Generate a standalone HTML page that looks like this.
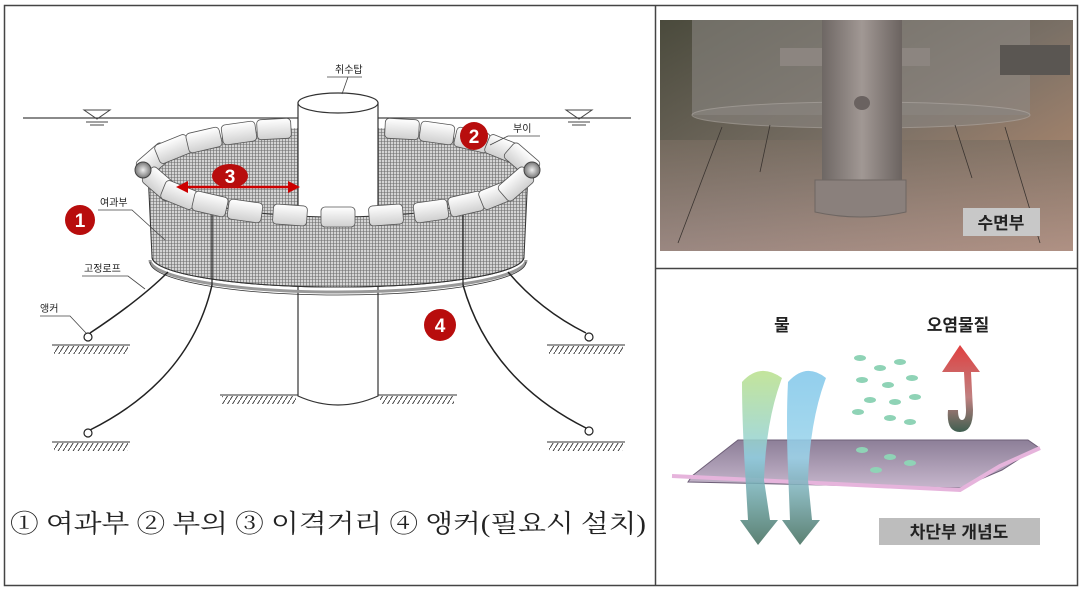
<!DOCTYPE html>
<html><head><meta charset="utf-8"><style>
html,body{margin:0;padding:0;background:#fff;}
body{width:1085px;height:592px;overflow:hidden;}
svg{display:block;}
</style></head><body>
<svg width="1085" height="592" viewBox="0 0 1085 592" xmlns="http://www.w3.org/2000/svg" font-family="Liberation Sans, Noto Sans CJK KR, sans-serif">
<defs>
<pattern id="mesh" width="3" height="3" patternUnits="userSpaceOnUse">
<rect width="3" height="3" fill="#d4d4d4"/>
<path d="M0 0.5H3M0.5 0V3" stroke="#6a6a6a" stroke-width="0.6"/>
</pattern>
<pattern id="hatch" width="5" height="8" patternUnits="userSpaceOnUse">
<path d="M0 8L5 0" stroke="#333" stroke-width="0.9"/>
</pattern>
<linearGradient id="flt" x1="0" y1="0" x2="0" y2="1"><stop offset="0" stop-color="#fff"/><stop offset="1" stop-color="#cfcfcf"/></linearGradient>
<radialGradient id="ball"><stop offset="0" stop-color="#eee"/><stop offset="1" stop-color="#777"/></radialGradient>
<linearGradient id="photo" x1="0" y1="0" x2="1" y2="1"><stop offset="0" stop-color="#4a4a3c"/><stop offset="0.5" stop-color="#7a7066"/><stop offset="1" stop-color="#c09070"/></linearGradient>
<linearGradient id="floor" x1="0" y1="0" x2="0" y2="1"><stop offset="0" stop-color="#7a6e62"/><stop offset="1" stop-color="#a8918c"/></linearGradient>
<linearGradient id="col" x1="0" y1="0" x2="1" y2="0"><stop offset="0" stop-color="#6e6764"/><stop offset="0.5" stop-color="#a19894"/><stop offset="1" stop-color="#6b6360"/></linearGradient>
<linearGradient id="ag" x1="0" y1="0" x2="0" y2="1"><stop offset="0" stop-color="#b9e08a"/><stop offset="0.5" stop-color="#8ecfe0"/><stop offset="1" stop-color="#3f6b5a"/></linearGradient>
<linearGradient id="ab" x1="0" y1="0" x2="0" y2="1"><stop offset="0" stop-color="#7fc6ea"/><stop offset="0.5" stop-color="#9ad4ea"/><stop offset="1" stop-color="#3f6b5a"/></linearGradient>
<linearGradient id="ar" x1="0" y1="0" x2="0" y2="1"><stop offset="0" stop-color="#e04040"/><stop offset="0.6" stop-color="#c08080"/><stop offset="1" stop-color="#3f5f50"/></linearGradient>
<linearGradient id="plate" x1="0" y1="0" x2="0" y2="1"><stop offset="0" stop-color="#8d7f98"/><stop offset="1" stop-color="#c6b6cc"/></linearGradient>
</defs>

<rect x="4.5" y="5.5" width="1073" height="580" fill="none" stroke="#444" stroke-width="1.5"/>
<line x1="655.5" y1="5" x2="655.5" y2="586" stroke="#444" stroke-width="1.5"/>
<line x1="655" y1="268.5" x2="1078" y2="268.5" stroke="#444" stroke-width="1.5"/>

<line x1="23" y1="118" x2="631" y2="118" stroke="#444" stroke-width="1.2"/>
<g stroke="#444" fill="none" stroke-width="1">
<path d="M84 110H110L97 119Z"/><path d="M86 122H108M90 125H104"/>
<path d="M566 110H592L579 119Z"/><path d="M568 122H590M572 125H586"/>
</g>
<ellipse cx="338" cy="172" rx="190" ry="45" fill="url(#mesh)"/>
<g fill="url(#flt)" stroke="#555" stroke-width="0.8">
<rect x="-17" y="-10" width="34" height="20" rx="4" transform="translate(154,160) rotate(-41)"/>
<rect x="-17" y="-10" width="34" height="20" rx="4" transform="translate(173,149) rotate(-22)"/>
<rect x="-17" y="-10" width="34" height="20" rx="4" transform="translate(204,140) rotate(-13)"/>
<rect x="-17" y="-10" width="34" height="20" rx="4" transform="translate(239,133) rotate(-8)"/>
<rect x="-17" y="-10" width="34" height="20" rx="4" transform="translate(274,129) rotate(-3)"/>
<rect x="-17" y="-10" width="34" height="20" rx="4" transform="translate(402,129) rotate(3)"/>
<rect x="-17" y="-10" width="34" height="20" rx="4" transform="translate(437,133) rotate(8)"/>
<rect x="-17" y="-10" width="34" height="20" rx="4" transform="translate(472,140) rotate(13)"/>
<rect x="-17" y="-10" width="34" height="20" rx="4" transform="translate(503,149) rotate(22)"/>
<rect x="-17" y="-10" width="34" height="20" rx="4" transform="translate(522,160) rotate(41)"/>
</g>
<rect x="298" y="103" width="80" height="115" fill="#fff" stroke="#333" stroke-width="1.2"/>
<ellipse cx="338" cy="103" rx="40" ry="10" fill="#fff" stroke="#333" stroke-width="1.2"/>
<path d="M298 285V396Q338 414 378 396V285" fill="#fff" stroke="#333" stroke-width="1.2"/>
<path d="M148 172A190 45 0 0 0 528 172L524 257A186 30 0 0 1 152 257Z" fill="url(#mesh)" stroke="#333" stroke-width="1"/>
<path d="M152 257A186 30 0 0 0 524 257" fill="none" stroke="#333" stroke-width="1"/>
<path d="M150 260A188 32 0 0 0 526 260" fill="none" stroke="#999" stroke-width="3"/>
<path d="M150 262A188 33 0 0 0 526 262" fill="none" stroke="#333" stroke-width="0.8"/>
<line x1="212" y1="205" x2="212" y2="285" stroke="#222" stroke-width="1.2"/>
<line x1="463" y1="205" x2="463" y2="285" stroke="#222" stroke-width="1.2"/>
<g fill="none" stroke="#222" stroke-width="1.5">
<path d="M168 272Q140 300 90 333"/>
<path d="M212 285Q190 380 90 430"/>
<path d="M508 272Q540 310 586 333"/>
<path d="M463 285Q490 380 586 428"/>
</g>
<g fill="#fff" stroke="#222" stroke-width="1.2">
<circle cx="88" cy="337" r="4"/><circle cx="88" cy="433" r="4"/>
<circle cx="589" cy="337" r="4"/><circle cx="589" cy="431" r="4"/>
</g>
<g stroke="#333" stroke-width="1">
<line x1="52" y1="345" x2="130" y2="345"/><rect x="54" y="346" width="74" height="8" fill="url(#hatch)" stroke="none"/>
<line x1="52" y1="442" x2="130" y2="442"/><rect x="54" y="443" width="74" height="8" fill="url(#hatch)" stroke="none"/>
<line x1="547" y1="345" x2="625" y2="345"/><rect x="549" y="346" width="74" height="8" fill="url(#hatch)" stroke="none"/>
<line x1="547" y1="442" x2="625" y2="442"/><rect x="549" y="443" width="74" height="8" fill="url(#hatch)" stroke="none"/>
<line x1="220" y1="395" x2="298" y2="395"/><rect x="222" y="396" width="74" height="8" fill="url(#hatch)" stroke="none"/>
<line x1="378" y1="395" x2="457" y2="395"/><rect x="380" y="396" width="74" height="8" fill="url(#hatch)" stroke="none"/>
</g>
<g fill="url(#flt)" stroke="#555" stroke-width="0.8">
<rect x="-17" y="-10" width="34" height="20" rx="4" transform="translate(160,184) rotate(41)"/>
<rect x="-17" y="-10" width="34" height="20" rx="4" transform="translate(179,195) rotate(22)"/>
<rect x="-17" y="-10" width="34" height="20" rx="4" transform="translate(210,204) rotate(13)"/>
<rect x="-17" y="-10" width="34" height="20" rx="4" transform="translate(245,211) rotate(8)"/>
<rect x="-17" y="-10" width="34" height="20" rx="4" transform="translate(290,215) rotate(4)"/>
<rect x="-17" y="-10" width="34" height="20" rx="4" transform="translate(338,217)"/>
<rect x="-17" y="-10" width="34" height="20" rx="4" transform="translate(386,215) rotate(-4)"/>
<rect x="-17" y="-10" width="34" height="20" rx="4" transform="translate(431,211) rotate(-8)"/>
<rect x="-17" y="-10" width="34" height="20" rx="4" transform="translate(466,204) rotate(-13)"/>
<rect x="-17" y="-10" width="34" height="20" rx="4" transform="translate(497,195) rotate(-22)"/>
<rect x="-17" y="-10" width="34" height="20" rx="4" transform="translate(516,184) rotate(-41)"/>
</g>
<circle cx="143" cy="170" r="8" fill="url(#ball)" stroke="#444"/>
<circle cx="532" cy="170" r="8" fill="url(#ball)" stroke="#444"/>
<g stroke="#c00" fill="#c00">
<line x1="184" y1="187" x2="290" y2="187" stroke-width="2.5"/>
<path d="M176 187L188 181V193Z" stroke="none"/><path d="M300 187L288 181V193Z" stroke="none"/>
</g>
<g fill="#b80d0d">
<circle cx="80" cy="220" r="15"/><circle cx="474" cy="136" r="14"/>
<ellipse cx="230" cy="176" rx="18" ry="12"/><circle cx="440" cy="325" r="16"/>
</g>
<g fill="#fff" font-weight="bold" font-size="19" text-anchor="middle">
<text x="80" y="227">1</text><text x="474" y="143">2</text><text x="230" y="183">3</text><text x="440" y="332">4</text>
</g>
<g font-size="10" fill="#222">
<text x="335" y="73">취수탑</text>
<text x="513" y="132">부이</text>
<text x="100" y="206">여과부</text>
<text x="84" y="272">고정로프</text>
<text x="40" y="312">앵커</text>
</g>
<g fill="none" stroke="#444" stroke-width="0.8">
<path d="M327 77H362M348 77L342 94"/>
<path d="M508 136H540M508 136L490 145"/>
<path d="M98 210H132L165 240"/>
<path d="M82 276H128L145 289"/>
<path d="M40 316H70L86 333"/>
</g>
<text x="10" y="532" font-size="25" fill="#222" textLength="636" lengthAdjust="spacingAndGlyphs" font-family="Liberation Serif, Noto Serif CJK KR, serif">① 여과부 ② 부의 ③ 이격거리 ④ 앵커(필요시 설치)</text>

<rect x="660" y="20" width="413" height="231" fill="url(#photo)"/>
<path d="M660 140H1073V251H660Z" fill="url(#floor)" opacity="0.7"/>
<rect x="692" y="20" width="338" height="95" fill="#8e8a86" opacity="0.55"/>
<ellipse cx="861" cy="115" rx="169" ry="13" fill="#8a8580" opacity="0.6" stroke="#b0aaa5"/>
<rect x="780" y="48" width="150" height="18" fill="#8c8580"/>
<rect x="1000" y="45" width="70" height="30" fill="#5a5652"/>
<rect x="822" y="20" width="80" height="175" fill="url(#col)"/>
<ellipse cx="862" cy="103" rx="8" ry="7" fill="#6a6260"/>
<path d="M815 180H906V212Q860 222 815 212Z" fill="#8a807c" stroke="#6e6662"/>
<g stroke="#3a3430" stroke-width="0.8" fill="none">
<path d="M722 127L678 243M770 125L760 172M955 125L972 178M1005 127L1040 243"/>
</g>
<rect x="963" y="208" width="77" height="28" fill="#c8c8c8"/>
<text x="1001" y="229" font-size="17" font-weight="bold" text-anchor="middle" fill="#222">수면부</text>

<text x="782" y="331" font-size="17" font-weight="bold" text-anchor="middle" fill="#222">물</text>
<text x="958" y="331" font-size="17" font-weight="bold" text-anchor="middle" fill="#222">오염물질</text>
<path d="M692 476L738 440H1028L1038 447L1002 470L960 488L688 482Z" fill="url(#plate)" stroke="#6e5f78"/>
<path d="M672 476L960 490L1000 466L1040 448" fill="none" stroke="#e6b4dc" stroke-width="4"/>
<path d="M742 382Q760 362 782 378Q766 420 764 480L770 520L778 520L758 545L740 520L748 520L745 470Q742 420 742 382Z" fill="url(#ag)" opacity="0.85"/>
<path d="M788 382Q806 362 826 378Q810 420 808 480L812 520L820 520L800 545L782 520L790 520L788 470Q786 420 788 382Z" fill="url(#ab)" opacity="0.85"/>
<path d="M942 372L960 345L980 372L971 372L973 410Q973 432 960 432Q946 432 948 410L958 410Q958 420 962 420Q966 420 966 410L964 372Z" fill="url(#ar)"/>
<g fill="#8fd3b6">
<ellipse cx="860" cy="358" rx="6" ry="3"/><ellipse cx="880" cy="368" rx="6" ry="3"/><ellipse cx="900" cy="362" rx="6" ry="3"/>
<ellipse cx="862" cy="380" rx="6" ry="3"/><ellipse cx="888" cy="385" rx="6" ry="3"/><ellipse cx="912" cy="378" rx="6" ry="3"/>
<ellipse cx="870" cy="400" rx="6" ry="3"/><ellipse cx="895" cy="402" rx="6" ry="3"/><ellipse cx="915" cy="397" rx="6" ry="3"/>
<ellipse cx="858" cy="412" rx="6" ry="3"/><ellipse cx="890" cy="418" rx="6" ry="3"/><ellipse cx="910" cy="422" rx="6" ry="3"/>
<ellipse cx="862" cy="450" rx="6" ry="3"/><ellipse cx="890" cy="457" rx="6" ry="3"/><ellipse cx="910" cy="463" rx="6" ry="3"/><ellipse cx="876" cy="470" rx="6" ry="3"/>
</g>
<rect x="879" y="518" width="161" height="27" fill="#bdbdbd"/>
<text x="959" y="538" font-size="17" font-weight="bold" text-anchor="middle" fill="#222">차단부 개념도</text>
</svg>
</body></html>
